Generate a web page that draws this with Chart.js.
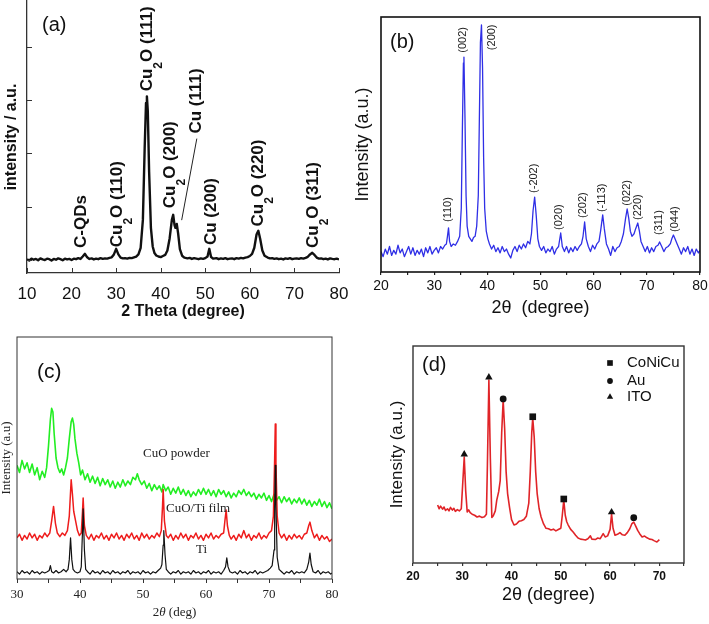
<!DOCTYPE html>
<html>
<head>
<meta charset="utf-8">
<title>XRD patterns</title>
<script src="https://cdn.jsdelivr.net/npm/chart.js@4.4.0/dist/chart.umd.min.js"></script>
<style>
  body { margin: 0; background: #fff; width: 709px; height: 624px; position: relative; overflow: hidden; }
  canvas { position: absolute; }
</style>
</head>
<body>
<canvas id="chart-a" width="355" height="325" style="left:0;top:0;width:355px;height:325px"></canvas>
<canvas id="chart-b" width="359" height="330" style="left:350px;top:0;width:359px;height:330px"></canvas>
<canvas id="chart-c" width="355" height="304" style="left:0;top:320px;width:355px;height:304px"></canvas>
<canvas id="chart-d" width="354" height="304" style="left:355px;top:320px;width:354px;height:304px"></canvas>
<script>
// ---- dados (2θ, intensidade) ----

// (a) C-QDs / Cu2O / Cu
const patternA = [
  [10,2],[10.5,-3],[11,4],[11.5,0],[12,3],[12.5,-2],[13,5],[13.5,1],[14,-1],[14.5,4],[15,2],[15.5,-3],
  [16,3],[16.5,0],[17,5],[17.5,2],[18,-2],[18.5,4],[19,1],[19.5,3],[20,-1],[20.5,4],[21,2],[21.5,6],
  [22,3],[22.5,12],[23,22],[23.5,9],[24,3],[24.5,5],[25,1],[25.5,4],[26,2],[26.5,6],[27,3],[27.5,5],
  [28,4],[28.5,7],[29,9],[29.5,20],[30,41],[30.5,20],[31,8],[31.5,5],[32,6],[32.5,4],[33,7],[33.5,6],
  [34,9],[34.5,12],[35,20],[35.5,45],[36,150],[36.4,420],[36.7,590],[36.9,615],[37.1,560],[37.4,330],
  [37.8,120],[38.2,50],[38.6,25],[39,16],[39.5,12],[40,10],[40.5,14],[41,18],[41.5,35],[42,80],
  [42.5,150],[42.8,169],[43.1,130],[43.3,120],[43.6,135],[43.9,100],[44.3,40],[44.8,15],[45.3,8],
  [46,5],[46.5,7],[47,3],[47.5,6],[48,4],[48.5,2],[49,5],[49.5,3],[50,6],[50.5,12],[50.9,41],[51.3,10],
  [51.8,4],[52.5,6],[53,2],[53.5,5],[54,3],[54.5,6],[55,2],[55.5,4],[56,5],[56.5,2],[57,6],[57.5,4],
  [58,7],[58.5,5],[59,8],[59.5,10],[60,14],[60.5,22],[61,45],[61.5,95],[61.9,109],[62.3,80],[62.8,35],
  [63.3,15],[64,8],[64.5,5],[65,6],[65.5,3],[66,5],[66.5,2],[67,4],[67.5,1],[68,5],[68.5,3],[69,6],
  [69.5,2],[70,4],[70.5,5],[71,3],[71.5,6],[72,4],[72.5,7],[73,11],[73.5,20],[74,26],[74.5,18],[75,8],
  [75.5,4],[76,5],[76.5,2],[77,4],[77.5,1],[78,5],[78.5,3],[79,2],[79.5,4],[80,1]
];
const labelsA = ['C-QDs', 'Cu₂O (110)', 'Cu₂O (111)', 'Cu₂O (200)', 'Cu (111)', 'Cu (200)', 'Cu₂O (220)', 'Cu₂O (311)'];
const labelAtA = [[22.2,44],[30.3,47],[36.97,634],[42.1,194],[48.0,475],[51.4,55],[61.9,125],[74.3,44]];
const leaderA = [[48.1,456],[44.7,149]];
const xTicksA = [10, 20, 30, 40, 50, 60, 70, 80];
const yTicksA = [0, 200, 400, 600, 800];

// (b) CuO
const patternB = [
  [20,8],[20.4,6],[20.8,9],[21.2,7],[21.6,10],[22,6.5],[22.4,8.5],[22.8,7],[23.2,10.5],[23.6,7.5],[24,9],
  [24.4,6],[24.8,8],[25.2,10],[25.6,7],[26,9.5],[26.4,6.5],[26.8,8.5],[27.2,7],[27.6,9],[28,6],[28.4,9.5],
  [28.8,7.5],[29.2,10],[29.6,7],[30,8.5],[30.4,9.5],[30.8,7.5],[31.2,10],[31.6,9],[32,10.5],[32.3,11],
  [32.5,14],[32.7,17.3],[32.9,12],[33.2,10],[33.6,11],[34,10.5],[34.4,12],[34.8,14],[35.1,25],[35.3,55],
  [35.5,82],[35.6,84.3],[35.8,60],[36,30],[36.2,18],[36.5,14],[36.8,13],[37.1,12],[37.4,13.5],[37.7,14],
  [38,18],[38.3,30],[38.5,60],[38.7,90],[38.9,96.9],[39.1,80],[39.3,45],[39.5,25],[39.8,16],[40.1,13],
  [40.4,11],[40.8,9],[41.2,10.5],[41.6,8],[42,9.5],[42.4,7.5],[42.8,10],[43.2,8],[43.6,9],[44,7],[44.4,5.5],
  [44.8,8.5],[45.2,10],[45.6,8],[46,10.5],[46.4,9],[46.8,11],[47.2,9.5],[47.6,12],[48,11],[48.3,15],
  [48.6,24],[48.9,29.4],[49.2,22],[49.5,13],[49.8,10],[50.2,8.5],[50.6,10],[51,7.5],[51.4,9],[51.8,8],
  [52.2,10],[52.6,7],[53,9],[53.4,10],[53.8,15.3],[54.1,10],[54.5,8],[54.9,10],[55.3,7.5],[55.7,9.5],
  [56.1,8],[56.5,10],[56.9,8.5],[57.3,10],[57.7,11],[58,14],[58.3,19.6],[58.6,13],[59,10],[59.4,8],
  [59.8,10.5],[60.2,9],[60.6,11],[61,12],[61.3,16],[61.7,22.4],[62,17],[62.4,11],[62.8,9],[63.2,6.5],
  [63.6,10],[64,8],[64.4,9.5],[64.8,10],[65.2,12],[65.6,15],[66,21],[66.3,24.7],[66.6,21],[66.9,16],
  [67.2,14],[67.6,15],[67.9,17],[68.3,19.2],[68.6,16],[68.9,12],[69.3,10],[69.7,8],[70.1,10],[70.5,7.5],
  [70.9,9.5],[71.3,8],[71.7,10],[72.1,10.5],[72.4,11.8],[72.8,10],[73.2,8],[73.6,9.5],[74,10],[74.4,11],
  [74.7,13],[75,14.5],[75.3,13],[75.7,11],[76.1,9],[76.5,7],[76.9,9.5],[77.3,8],[77.7,10],[78.1,7],
  [78.5,9],[78.9,6.5],[79.3,9],[79.7,7.5],[80,8.5]
];
const labelsB = ['(110)', '(002)', '(200)', '(-202)', '(020)', '(202)', '(-113)', '(022)', '(220)', '(311)', '(044)'];
const labelAtB = [[32.6,19.6],[35.4,86],[40.9,87],[48.8,31],[53.5,16.5],[58.0,21.2],[61.6,23.5],[66.3,26],[68.3,20.4],[72.3,14.5],[75.2,15.7]];

// (c) CuO powder, CuO/Ti film, Ti
const cuoPowder = [
  [30,47],[30.4,44],[30.8,49],[31.2,45.5],[31.6,48],[32,44],[32.4,47.5],[32.8,43],[33.2,46],[33.6,41],
  [34,44.5],[34.4,42],[34.7,46],[35,55],[35.3,66],[35.5,70.5],[35.7,69],[35.9,60],[36.2,50],[36.5,46],
  [36.8,44],[37.1,45.5],[37.4,43],[37.7,46],[38,50],[38.3,58],[38.6,65],[38.8,66.5],[39,64],[39.2,58],
  [39.5,52],[39.8,48],[40.1,43],[40.4,45],[40.8,41],[41.2,43.5],[41.6,40],[42,42.5],[42.4,39.5],[42.8,42],
  [43.2,38.5],[43.6,41.5],[44,39],[44.4,41],[44.8,38],[45.2,40.5],[45.6,37.5],[46,40],[46.4,38],[46.8,41],
  [47.2,38.5],[47.6,40.5],[48,39],[48.4,42],[48.8,41],[49.1,43.5],[49.4,41],[49.8,39],[50.2,40.5],
  [50.6,37.5],[51,39.5],[51.4,36.5],[51.8,39],[52.2,37],[52.6,38.5],[53,36],[53.2,39],[53.6,36.5],[54,38],
  [54.4,35],[54.8,37.5],[55.2,35.5],[55.6,38],[56,35],[56.4,37],[56.8,34.5],[57.2,36.5],[57.6,34],[58,36],
  [58.4,34.5],[58.8,37],[59.2,35],[59.6,37.5],[60,35],[60.4,37],[60.8,34.5],[61.2,36.5],[61.6,34],[62,37],
  [62.4,35],[62.8,36.5],[63.2,34],[63.6,36],[64,33.5],[64.4,35.5],[64.8,34],[65.2,36.5],[65.6,35],[66,37],
  [66.4,34.5],[66.8,36],[67.2,34],[67.6,35.5],[68,33],[68.4,35],[68.8,33.5],[69.2,35.5],[69.6,32.5],
  [70,34.5],[70.4,32],[70.8,35],[71.2,32.5],[71.6,34],[72,31.5],[72.4,34],[72.8,32],[73.2,33.5],[73.6,31],
  [74,33],[74.4,31.5],[74.8,33.5],[75.2,31],[75.6,33],[76,30.5],[76.4,32.5],[76.8,30],[77.2,32],[77.6,30.5],
  [78,33],[78.4,30],[78.8,32],[79.2,29.5],[79.6,31.5],[80,29]
];
const cuoTiFilm = [
  [30,17],[30.4,18.5],[30.8,16],[31.2,18],[31.6,16.5],[32,19],[32.4,17],[32.8,18.5],[33.2,16],[33.6,18],
  [34,17],[34.4,19],[34.8,17.5],[35.2,19],[35.5,24],[35.8,30],[36.1,23],[36.4,19],[36.8,17.5],[37.2,19],
  [37.6,18],[38,20],[38.3,26],[38.6,41],[38.8,35],[39,28],[39.3,24],[39.6,20],[39.9,18],[40.2,19],
  [40.4,28],[40.5,33.5],[40.7,22],[41,18],[41.4,16.5],[41.8,18.5],[42.2,16],[42.6,18],[43,17],[43.4,19],
  [43.8,16.5],[44.2,18],[44.6,16],[45,18.5],[45.4,17],[45.8,19],[46.2,16.5],[46.6,18],[47,16],[47.4,18.5],
  [47.8,17],[48.2,19],[48.6,16.5],[49,18],[49.4,16],[49.8,19],[50.2,17],[50.6,18.5],[51,16.5],[51.4,18],
  [51.8,17],[52.2,19],[52.6,17.5],[52.9,20],[53.1,30],[53.2,37],[53.4,24],[53.7,18],[54,17],[54.4,18.5],
  [54.8,16],[55.2,18],[55.6,16.5],[56,19],[56.4,17],[56.8,18.5],[57.2,16],[57.6,18],[58,17],[58.4,19],
  [58.8,16.5],[59.2,18],[59.6,16],[60,18.5],[60.4,17],[60.8,19],[61.2,16.5],[61.6,18],[62,17],[62.4,18.5],
  [62.8,19],[63,24],[63.2,28.5],[63.4,22],[63.7,18],[64,16.5],[64.4,18],[64.8,16],[65.2,18.5],[65.6,17],
  [66,20],[66.4,17],[66.8,18.5],[67.2,16],[67.6,18],[68,17],[68.4,19],[68.8,16.5],[69.2,18],[69.6,17],
  [70,19],[70.4,20],[70.7,26],[70.9,50],[71,64],[71.1,48],[71.3,26],[71.6,19],[72,17],[72.4,18.5],[72.8,16],
  [73.2,18],[73.6,16.5],[74,18.5],[74.4,17],[74.8,18],[75.2,16.5],[75.6,18.5],[76,19],[76.3,22],[76.5,23.5],
  [76.8,20],[77.2,17],[77.6,18.5],[78,16],[78.4,18],[78.8,16.5],[79.2,17.5],[79.6,15.5],[80,16.5]
];
const tiSubstrate = [
  [30,3],[30.4,2],[30.8,3.5],[31.2,2.5],[31.6,3],[32,2],[32.4,3.5],[32.8,2.5],[33.2,3],[33.6,2],[34,3],
  [34.4,2.5],[34.8,3],[35.1,3.5],[35.3,5.5],[35.5,3],[35.8,2.5],[36.2,3.5],[36.6,2.5],[37,3],[37.4,4],
  [37.8,3],[38.1,4],[38.3,8],[38.5,17],[38.7,8],[38.9,4],[39.2,3],[39.6,2.5],[40,3],[40.2,5],[40.4,20],
  [40.5,29],[40.7,12],[40.9,4],[41.2,3],[41.6,2],[42,3.5],[42.4,2.5],[42.8,3],[43.2,2],[43.6,3.5],[44,2.5],
  [44.4,3],[44.8,2],[45.2,3.5],[45.6,2.5],[46,3],[46.4,2],[46.8,3],[47.2,2.5],[47.6,3.5],[48,2],[48.4,3],
  [48.8,2.5],[49.2,3],[49.6,2],[50,3.5],[50.4,2.5],[50.8,3],[51.2,2],[51.6,3],[52,2.5],[52.4,3.5],[52.8,4.5],
  [53,6],[53.2,14],[53.3,20],[53.5,10],[53.7,4],[54,3],[54.4,2],[54.8,3],[55.2,2.5],[55.6,3.5],[56,2],
  [56.4,3],[56.8,2.5],[57.2,3],[57.6,2],[58,3.5],[58.4,2.5],[58.8,3],[59.2,2],[59.6,3],[60,2.5],[60.4,3.5],
  [60.8,2],[61.2,3],[61.6,2.5],[62,3],[62.4,2],[62.8,3.5],[63.1,5],[63.3,8.7],[63.5,5],[63.8,3],[64.2,2.5],
  [64.6,3],[65,2],[65.4,3.5],[65.8,2.5],[66.2,3],[66.6,2],[67,3],[67.4,2.5],[67.8,3.5],[68.2,2],[68.6,3],
  [69,2.5],[69.4,3],[69.8,3.5],[70.2,4.5],[70.5,5.5],[70.8,12],[70.9,30],[71,47],[71.1,30],[71.3,9],
  [71.6,4],[72,3],[72.4,2],[72.8,3],[73.2,2.5],[73.6,3.5],[74,2],[74.4,3],[74.8,2.5],[75.2,3],[75.6,2.5],
  [76,4],[76.3,7],[76.5,10.7],[76.7,6],[77,3],[77.4,2.5],[77.8,3.5],[78.2,2],[78.6,3],[79,2.5],[79.4,3],
  [79.8,2],[80,2.5]
];
const labelsC = ['CuO powder', 'CuO/Ti film', 'Ti'];
const labelAtC = [[50.0,52],[53.65,29.3],[58.4,12]];

// (d) CoNiCu / Au / ITO
const patternD = [
  [25,26.7],[25.3,25],[25.6,26.2],[26,24.8],[26.3,25.8],[26.6,24.2],[27,25],[27.3,24],[27.6,25.6],[28,24.4],
  [28.3,25.2],[28.6,23.8],[29,24.6],[29.4,24],[29.8,25],[30.1,37],[30.4,48.8],[30.7,33],[31,23.5],[31.3,24.5],
  [31.6,23.2],[32,22.5],[32.5,22],[33,21.2],[33.5,21.6],[34,21],[34.5,21.3],[34.9,22.5],[35.1,45],[35.4,84.3],
  [35.7,48],[36,21],[36.3,21.8],[36.7,24],[37,29],[37.4,33],[37.7,38],[38,60],[38.3,75],[38.6,62],[38.9,42],
  [39.2,32],[39.6,25.5],[40,20],[40.5,17.5],[41,18],[41.5,19.2],[42,19.5],[42.5,20],[43,21.5],[43.5,27.6],
  [43.8,42],[44.1,60],[44.3,66.8],[44.6,58],[44.9,42],[45.2,32],[45.6,25],[46,21.2],[46.5,18],[47,16],
  [47.5,15.8],[48,15.2],[48.5,15.6],[49,14.8],[49.5,15.4],[50,16],[50.3,22],[50.6,29],[50.9,22],[51.2,19],
  [51.5,17.5],[52,15.5],[52.5,14.3],[53,12.8],[53.5,11.5],[54,11],[54.5,10.8],[55,10.6],[55.5,11.2],[56,12.5],
  [56.3,11],[57,10.8],[57.5,11.5],[58,11.2],[58.6,13.5],[59,12],[59.5,12.5],[60,15.5],[60.3,22.6],[60.6,16],
  [61,12.8],[61.5,13.2],[62,14],[62.5,13],[63,12.8],[63.5,14],[64,15.8],[64.4,18],[64.8,18.9],[65.2,17],
  [65.6,15],[66,13.5],[66.5,12],[67,12.4],[67.5,11.6],[68,11],[68.5,10.8],[69,10.2],[69.5,9.7],[70,10.8]
];
const peaksCoNiCu = [[44.3,67.4],[50.6,29.5]];
const peaksAu = [[38.3,75.6],[64.8,20.9]];
const peaksITO = [[30.4,50.1],[35.4,85.6],[60.3,23.4]];

// ---- estilos ----
const SANS = '"Liberation Sans", Arial, sans-serif';
const SERIF = '"Liberation Serif", "Times New Roman", serif';

function toPoints(pairs) {
    return pairs.map(p => ({ x: p[0], y: p[1] }));
}

// fixa o tamanho de cada eixo para que a área do gráfico fique no lugar certo
function fixWidth(w) {
    return scale => { scale.width = w; scale.paddingTop = 0; scale.paddingBottom = 0; };
}
function fixHeight(h) {
    return scale => { scale.height = h; scale.paddingLeft = 0; scale.paddingRight = 0; };
}

// texto vertical (de baixo para cima); '₂' vira um 2 subscrito
function drawVertical(ctx, text, x, y, size, weight, family) {
    ctx.save();
    ctx.translate(x, y);
    ctx.rotate(-Math.PI / 2);
    ctx.textAlign = 'left';
    ctx.textBaseline = 'middle';
    let pos = 0;
    text.split(/(₂)/).forEach(part => {
        if (!part) return;
        if (part === '₂') {
            ctx.font = `${weight} ${Math.round(size * 0.7)}px ${family}`;
            ctx.fillText('2', pos, size * 0.68);
            pos += ctx.measureText('2').width;
        } else {
            ctx.font = `${weight} ${size}px ${family}`;
            ctx.fillText(part, pos, 0);
            pos += ctx.measureText(part).width;
        }
    });
    ctx.restore();
}

function panelLetter(text, x, y, size) {
    return {
        id: 'panelLetter',
        afterDraw(chart) {
            const ctx = chart.ctx;
            ctx.save();
            ctx.fillStyle = '#111';
            ctx.font = `${size}px ${SANS}`;
            ctx.textAlign = 'left';
            ctx.textBaseline = 'middle';
            ctx.fillText(text, x, y);
            ctx.restore();
        }
    };
}

const frame = (color, width) => ({
    id: 'frame',
    afterDraw(chart) {
        const { left, top, width: w, height: h } = chart.chartArea;
        const ctx = chart.ctx;
        ctx.save();
        ctx.strokeStyle = color;
        ctx.lineWidth = width;
        ctx.strokeRect(left, top, w, h);
        ctx.restore();
    }
});

const baseOptions = {
    responsive: false,
    animation: false,
    devicePixelRatio: 1,
    events: [],
    plugins: { legend: { display: false }, tooltip: { enabled: false } },
    elements: { point: { radius: 0 }, line: { tension: 0, borderJoinStyle: 'round' } }
};

// ---- (a) ----
new Chart(document.getElementById('chart-a'), {
    type: 'line',
    data: {
        datasets: [{ data: toPoints(patternA), borderColor: '#111', borderWidth: 2.4 }]
    },
    options: {
        ...baseOptions,
        layout: { padding: { left: 0, top: 1, right: 16, bottom: 4 } },
        scales: {
            x: {
                type: 'linear', min: 10, max: 80,
                ticks: { stepSize: 10, autoSkip: false, maxRotation: 0, padding: 2.8, color: '#111', font: { family: SANS, size: 17 } },
                grid: { display: false },
                border: { display: true, color: '#333', width: 1.3 },
                title: { display: true, text: '2 Theta (degree)', color: '#111', padding: 0, font: { family: SANS, size: 16, weight: 'bold' } },
                afterFit: fixHeight(48)
            },
            y: {
                min: -50, max: 974,
                ticks: { display: false },
                grid: { display: false },
                border: { display: true, color: '#333', width: 1.3 },
                title: { display: true, text: 'intensity / a.u.', color: '#111', padding: { top: 2.4 }, font: { family: SANS, size: 16, weight: 'bold' } },
                afterFit: fixWidth(27)
            }
        }
    },
    plugins: [
        {
            id: 'annotA',
            afterDatasetsDraw(chart) {
                const { ctx, scales: { x, y }, chartArea } = chart;
                ctx.save();
                // marcas internas dos eixos
                ctx.strokeStyle = '#333';
                ctx.lineWidth = 1;
                ctx.beginPath();
                xTicksA.forEach(v => {
                    const px = Math.round(x.getPixelForValue(v)) + 0.5;
                    ctx.moveTo(px, chartArea.bottom);
                    ctx.lineTo(px, chartArea.bottom - 5);
                });
                yTicksA.forEach(v => {
                    const py = Math.round(y.getPixelForValue(v)) + 0.5;
                    ctx.moveTo(chartArea.left, py);
                    ctx.lineTo(chartArea.left + 5, py);
                });
                ctx.stroke();
                // linha indicando Cu (111)
                ctx.strokeStyle = '#222';
                ctx.beginPath();
                ctx.moveTo(x.getPixelForValue(leaderA[0][0]), y.getPixelForValue(leaderA[0][1]));
                ctx.lineTo(x.getPixelForValue(leaderA[1][0]), y.getPixelForValue(leaderA[1][1]));
                ctx.stroke();
                ctx.fillStyle = '#111';
                labelsA.forEach((txt, i) => {
                    drawVertical(ctx, txt, x.getPixelForValue(labelAtA[i][0]), y.getPixelForValue(labelAtA[i][1]), 17, 'bold', SANS);
                });
                ctx.restore();
            }
        },
        panelLetter('(a)', 42, 25, 20)
    ]
});

// ---- (b) ----
new Chart(document.getElementById('chart-b'), {
    type: 'line',
    data: {
        datasets: [{ data: toPoints(patternB), borderColor: '#2f2fe6', borderWidth: 1.3 }]
    },
    options: {
        ...baseOptions,
        layout: { padding: { left: 0, top: 17, right: 9, bottom: 11 } },
        scales: {
            x: {
                type: 'linear', min: 20, max: 80,
                ticks: { stepSize: 5, autoSkip: false, maxRotation: 0, padding: 2.6, color: '#111',
                         font: { family: SANS, size: 14 }, callback: v => (v % 10 === 0 ? v : '') },
                grid: { display: true, drawOnChartArea: false, drawTicks: true, tickLength: 3, color: '#222', lineWidth: 1.2 },
                border: { display: false },
                title: { display: true, text: '2θ  (degree)', color: '#111', padding: 0, font: { family: SANS, size: 18 } },
                afterFit: fixHeight(47)
            },
            y: {
                min: 0, max: 100,
                ticks: { display: false },
                grid: { display: false },
                border: { display: false },
                title: { display: true, text: 'Intensity (a.u.)', color: '#111', padding: { top: 2.2 }, font: { family: SANS, size: 18 } },
                afterFit: fixWidth(31)
            }
        }
    },
    plugins: [
        frame('#111', 1.6),
        {
            id: 'annotB',
            afterDatasetsDraw(chart) {
                const { ctx, scales: { x, y } } = chart;
                ctx.save();
                ctx.fillStyle = '#222';
                labelsB.forEach((txt, i) => {
                    drawVertical(ctx, txt, x.getPixelForValue(labelAtB[i][0]), y.getPixelForValue(labelAtB[i][1]), 11, 'normal', SANS);
                });
                ctx.restore();
            }
        },
        panelLetter('(b)', 40, 42, 20)
    ]
});

// ---- (c) ----
new Chart(document.getElementById('chart-c'), {
    type: 'line',
    data: {
        datasets: [
            { label: 'Ti', data: toPoints(tiSubstrate), borderColor: '#111', borderWidth: 1.2, order: 1 },
            { label: 'CuO/Ti film', data: toPoints(cuoTiFilm), borderColor: '#ee1c1c', borderWidth: 1.5, order: 2 },
            { label: 'CuO powder', data: toPoints(cuoPowder), borderColor: '#22ee22', borderWidth: 1.6, order: 3 }
        ]
    },
    options: {
        ...baseOptions,
        layout: { padding: { left: 0, top: 17, right: 23, bottom: 15 } },
        scales: {
            x: {
                type: 'linear', min: 30, max: 80,
                ticks: { stepSize: 5, autoSkip: false, maxRotation: 0, padding: 4.2, color: '#222',
                         font: { family: SERIF, size: 13 }, callback: v => (v % 10 === 0 ? v : '') },
                grid: { display: true, drawOnChartArea: false, drawTicks: true, tickLength: 4, color: '#333', lineWidth: 1 },
                border: { display: false },
                title: { display: false },
                afterFit: fixHeight(30)
            },
            y: {
                min: 0, max: 100,
                ticks: { display: false },
                grid: { display: false },
                border: { display: false },
                title: { display: true, text: 'Intensity (a.u)', color: '#222', padding: { top: 0.5 }, font: { family: SERIF, size: 13, lineHeight: 1 } },
                afterFit: fixWidth(17)
            }
        }
    },
    plugins: [
        frame('#333', 1),
        {
            id: 'annotC',
            afterDraw(chart) {
                const { ctx, scales: { x, y }, chartArea } = chart;
                ctx.save();
                ctx.fillStyle = '#222';
                ctx.textAlign = 'left';
                ctx.textBaseline = 'middle';
                ctx.font = `13px ${SERIF}`;
                labelsC.forEach((txt, i) => {
                    ctx.fillText(txt, x.getPixelForValue(labelAtC[i][0]), y.getPixelForValue(labelAtC[i][1]));
                });
                // título do eixo x com θ em itálico
                const parts = [['2', ''], ['θ', 'italic '], [' (deg)', '']];
                let total = 0;
                parts.forEach(p => { ctx.font = `${p[1]}13px ${SERIF}`; total += ctx.measureText(p[0]).width; });
                let px = (chartArea.left + chartArea.right) / 2 - total / 2;
                parts.forEach(p => {
                    ctx.font = `${p[1]}13px ${SERIF}`;
                    ctx.fillText(p[0], px, 293);
                    px += ctx.measureText(p[0]).width;
                });
                ctx.restore();
            }
        },
        panelLetter('(c)', 37, 52, 21)
    ]
});

// ---- (d) ----
new Chart(document.getElementById('chart-d'), {
    type: 'line',
    data: {
        datasets: [
            { type: 'scatter', label: 'CoNiCu', data: toPoints(peaksCoNiCu), pointStyle: 'rect', pointRadius: 4.7, backgroundColor: '#111', borderWidth: 0, order: 1 },
            { type: 'scatter', label: 'Au', data: toPoints(peaksAu), pointStyle: 'circle', pointRadius: 3.4, backgroundColor: '#111', borderWidth: 0, order: 1 },
            { type: 'scatter', label: 'ITO', data: toPoints(peaksITO), pointStyle: 'triangle', pointRadius: 4.3, backgroundColor: '#111', borderWidth: 0, order: 1 },
            { label: 'pattern', data: toPoints(patternD), borderColor: '#e02428', borderWidth: 1.6, order: 2 }
        ]
    },
    options: {
        ...baseOptions,
        layout: { padding: { left: 0, top: 26, right: 25, bottom: 18 } },
        scales: {
            x: {
                type: 'linear', min: 20, max: 75,
                ticks: { stepSize: 5, autoSkip: false, maxRotation: 0, padding: 3.8, color: '#111',
                         font: { family: SANS, size: 12, weight: 'bold' }, callback: v => (v % 10 === 0 ? v : '') },
                grid: { display: true, drawOnChartArea: false, drawTicks: true, tickLength: 3, color: '#333', lineWidth: 1.2 },
                border: { display: false },
                title: { display: true, text: '2θ (degree)', color: '#111', padding: 0, font: { family: SANS, size: 18 } },
                afterFit: fixHeight(43)
            },
            y: {
                min: 0, max: 100,
                ticks: { display: false },
                grid: { display: false },
                border: { display: false },
                title: { display: true, text: 'Intensity (a.u.)', color: '#111', padding: { top: 31.8 }, font: { family: SANS, size: 17 } },
                afterFit: fixWidth(58)
            }
        }
    },
    plugins: [
        frame('#333', 1.4),
        {
            id: 'legendD',
            afterDraw(chart) {
                const ctx = chart.ctx;
                ctx.save();
                ctx.font = `15px ${SANS}`;
                ctx.textAlign = 'left';
                ctx.textBaseline = 'middle';
                const rows = [43, 61, 77];
                chart.data.datasets.filter(ds => ds.type === 'scatter').forEach((ds, i) => {
                    ctx.fillStyle = '#111';
                    Chart.helpers.drawPoint(ctx, { pointStyle: ds.pointStyle, radius: ds.pointRadius * 0.85, borderWidth: 0, rotation: 0 }, 255, rows[i]);
                    ctx.fillText(ds.label, 272, rows[i]);
                });
                ctx.restore();
            }
        },
        panelLetter('(d)', 67, 45, 20)
    ]
});
</script>
</body>
</html>
